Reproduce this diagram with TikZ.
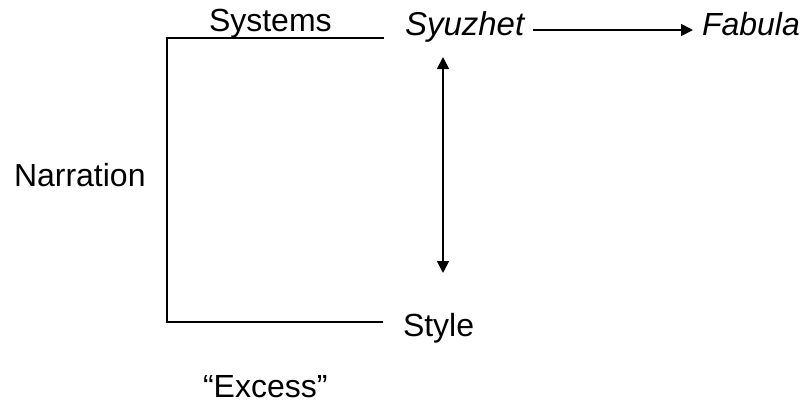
\documentclass[tikz,border=0pt]{standalone}
\usepackage{fontspec}
\setmainfont{Liberation Sans}
\usetikzlibrary{arrows.meta}
\begin{document}
\begin{tikzpicture}[x=1pt,y=-1pt,
  label text/.style={inner sep=0pt,outer sep=0pt,anchor=base west,font=\fontsize{32}{38}\selectfont},
  rule/.style={line width=2pt},
  tip/.style={line width=1.8pt,-{Triangle[length=12pt,width=12pt]}},
  dtip/.style={line width=1.8pt,{Triangle[length=12pt,width=12pt]}-{Triangle[length=12pt,width=12pt]}}]
  \useasboundingbox (0,0) rectangle (804,416);
  % labels
  \node[label text] (sys) at (209,31) {Systems};
  \node[label text] (syu) at (405,35) {\itshape\fontsize{33}{38}\selectfont Syuzhet};
  \node[label text] (fab) at (702,35) {\itshape Fabula};
  \node[label text] (nar) at (14,186) {Narration};
  \node[label text] (sty) at (403,336) {Style};
  \node[label text] (exc) at (203,397) {“Excess”};
  % bracket joining narration to its two systems
  \coordinate (tr) at (384,38);
  \coordinate (tl) at (167,38);
  \coordinate (bl) at (167,322);
  \coordinate (br) at (383,322);
  \draw[rule,line join=miter] (tr) -- (tl) -- (bl) -- (br);
  % syuzhet to fabula
  \coordinate (a1) at (533,30);
  \coordinate (a2) at (693,30);
  \draw[tip] (a1) -- (a2);
  % syuzhet <-> style
  \coordinate (up) at (443,57);
  \coordinate (dn) at (443,273);
  \draw[dtip] (up) -- (dn);
\end{tikzpicture}
\end{document}
